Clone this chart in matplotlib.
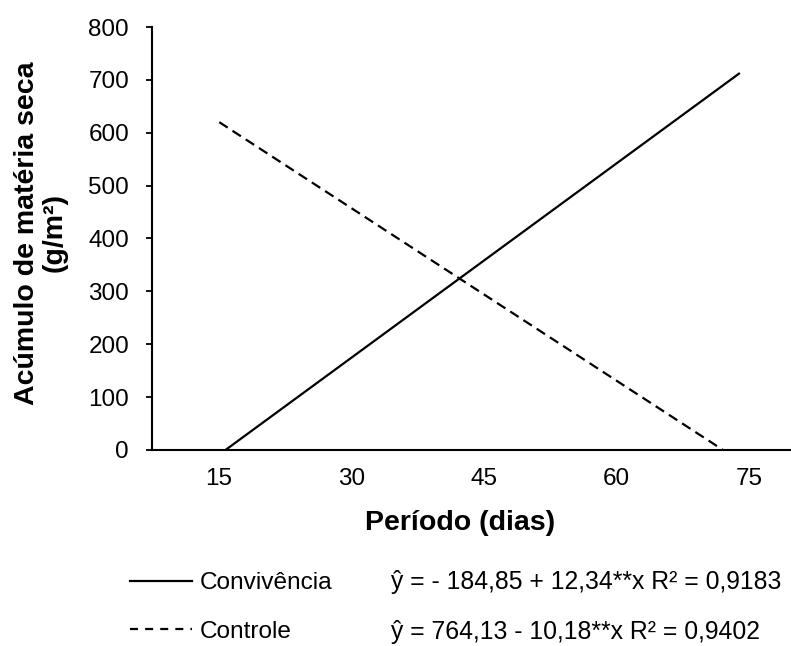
import matplotlib
matplotlib.use("Agg")
import matplotlib.pyplot as plt
from matplotlib.lines import Line2D

plt.rcParams['font.family'] = ['Liberation Sans', 'DejaVu Sans']

# period (days) and dry matter accumulation (g/m2)
conv_x = [15.8, 73.9]
conv_y = [0, 713]
ctrl_x = [15.1, 72.0]
ctrl_y = [620, 0]

x_ticks = [15, 30, 45, 60, 75]
y_ticks = [0, 100, 200, 300, 400, 500, 600, 700, 800]

labels = ['Convivência', 'Controle']
equations = ['ŷ = - 184,85 + 12,34**x R² = 0,9183',
             'ŷ = 764,13 - 10,18**x R² = 0,9402']

W, H = 791, 646
fig = plt.figure(figsize=(W / 100, H / 100), dpi=100)
ax = fig.add_axes([152 / W, 1 - 450 / H, (816 - 152) / W, (450 - 27) / H])

ax.plot(conv_x, conv_y, color='black', lw=1.6, solid_capstyle='butt')
ax.plot(ctrl_x, ctrl_y, color='black', lw=1.6, dashes=(4.5, 2.6))

ax.set_xlim(7.5, 82.5)
ax.set_ylim(0, 800)
ax.set_xticks(x_ticks)
ax.set_yticks(y_ticks)
ax.tick_params(axis='x', length=0, pad=13, labelsize=17.5)
ax.tick_params(axis='y', length=4.5, width=1.3, direction='out', pad=12, labelsize=17.5)
for s in ['top', 'right']:
    ax.spines[s].set_visible(False)
ax.spines['left'].set_linewidth(1.5)
ax.spines['bottom'].set_linewidth(1.5)

fig.text(460 / W, 1 - 523 / H, 'Período (dias)', fontsize=20.5, fontweight='bold',
         ha='center', va='center')
fig.text(41 / W, 1 - 233 / H, 'Acúmulo de matéria seca\n(g/m²)', fontsize=20.5,
         fontweight='bold', rotation=90, ha='center', va='center',
         multialignment='center', linespacing=1.05)

# legend handles
h1 = Line2D([], [], color='black', lw=1.6)
h2 = Line2D([], [], color='black', lw=1.6, dashes=(3.6, 3.2))
fig.legend([h1, h2], labels, loc='upper left', bbox_to_anchor=(130 / W, 1 - 572 / H),
           frameon=False, fontsize=17.6, handlelength=2.55, handletextpad=0.3,
           labelspacing=1.08, borderpad=0, borderaxespad=0)

for i, eq in enumerate(equations):
    fig.text(391 / W, 1 - (582 + 50 * i) / H, eq, fontsize=17.8, va='center', ha='left')

fig.savefig('out.png', dpi=100)
